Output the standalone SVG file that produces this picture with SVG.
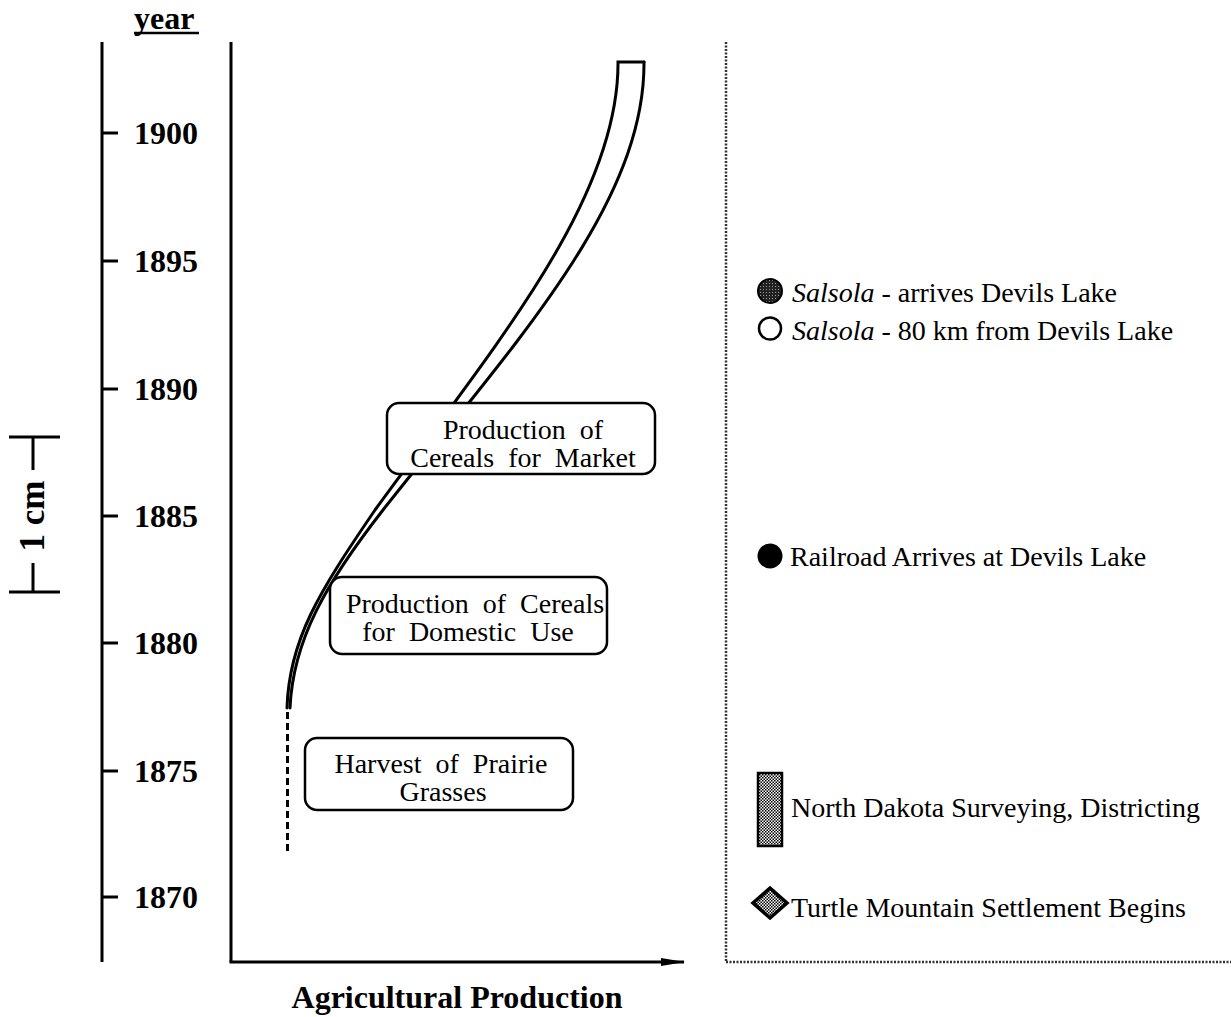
<svg xmlns="http://www.w3.org/2000/svg" width="1231" height="1017" viewBox="0 0 1231 1017">
<defs>
<pattern id="checker" width="3" height="3" patternUnits="userSpaceOnUse">
<rect width="3" height="3" fill="#fff"/>
<rect x="0" y="0" width="1.5" height="1.5" fill="#000"/>
<rect x="1.5" y="1.5" width="1.5" height="1.5" fill="#000"/>
</pattern>
<pattern id="dark" width="3" height="3" patternUnits="userSpaceOnUse">
<rect width="3" height="3" fill="#222"/>
<rect x="1" y="1" width="1" height="1" fill="#999"/>
</pattern>
<marker id="arrow" viewBox="0 0 24 10" refX="23" refY="5" markerWidth="24" markerHeight="10" markerUnits="userSpaceOnUse" orient="auto">
<path d="M0,1 L24,5 L0,9 Z" fill="#000"/>
</marker>
</defs>
<style>
.ax{stroke:#000;stroke-width:3;fill:none}
.yr{font-family:"Liberation Serif","Times New Roman",serif;font-weight:bold;font-size:32px;fill:#000}
.bx{fill:#fff;stroke:#000;stroke-width:2.5}
.bt{font-family:"Liberation Serif","Times New Roman",serif;font-size:28px;fill:#000;text-anchor:middle;word-spacing:7px}
.lg{font-family:"Liberation Serif","Times New Roman",serif;font-size:28px;fill:#000}
.dot{stroke:#333;stroke-width:2.5;stroke-dasharray:2 1.5;fill:none}
.cv{stroke:#000;stroke-width:3;fill:none;stroke-linecap:round}
</style>
<rect width="1231" height="1017" fill="#fff"/>

<g id="scale-bar">
<line class="ax" x1="9" y1="437" x2="60" y2="437"/>
<line class="ax" x1="9" y1="592" x2="60" y2="592"/>
<line class="ax" x1="33" y1="437" x2="33" y2="470"/>
<line class="ax" x1="33" y1="563" x2="33" y2="592"/>
<text class="yr" style="font-size:35px" text-anchor="middle" transform="translate(44,516) rotate(-90)">1 cm</text>
</g>

<g id="year-axis">
<text class="yr" x="134" y="29">year</text>
<line x1="134" y1="33" x2="199" y2="33" stroke="#000" stroke-width="2.5"/>
<line class="ax" x1="102" y1="42" x2="102" y2="962"/>
<g class="ax">
<line x1="102" y1="133" x2="118" y2="133"/>
<line x1="102" y1="261" x2="118" y2="261"/>
<line x1="102" y1="389" x2="118" y2="389"/>
<line x1="102" y1="516" x2="118" y2="516"/>
<line x1="102" y1="643" x2="118" y2="643"/>
<line x1="102" y1="771" x2="118" y2="771"/>
<line x1="102" y1="897" x2="118" y2="897"/>
</g>
<text class="yr" x="134" y="144">1900</text>
<text class="yr" x="134" y="272">1895</text>
<text class="yr" x="134" y="400">1890</text>
<text class="yr" x="134" y="527">1885</text>
<text class="yr" x="134" y="654">1880</text>
<text class="yr" x="134" y="782">1875</text>
<text class="yr" x="134" y="908">1870</text>
</g>

<g id="production-axis">
<line class="ax" x1="231" y1="42" x2="231" y2="962"/>
<line class="ax" x1="229.5" y1="962" x2="684" y2="962" marker-end="url(#arrow)"/>
<text class="yr" x="457" y="1008" text-anchor="middle">Agricultural Production</text>
</g>

<g id="connectors">
<path class="cv" d="M287,708 C289,640 319,592 375,510 C493,348 619,200 618,62 L644,62"/>
<path class="cv" d="M290,708 C293,640 326,583 383,510 C513,345 645,205 644,62"/>
<line x1="287.5" y1="712" x2="287.5" y2="852" stroke="#000" stroke-width="3" stroke-dasharray="7 4"/>
</g>

<g id="box-market">
<rect class="bx" x="387" y="403" width="268" height="71" rx="12"/>
<text class="bt" x="523" y="439">Production of</text>
<text class="bt" x="523" y="467">Cereals for Market</text>
</g>

<g id="box-domestic">
<rect class="bx" x="330" y="577" width="277" height="77" rx="12"/>
<text class="bt" x="475" y="613">Production of Cereals</text>
<text class="bt" x="468" y="641">for Domestic Use</text>
</g>

<g id="box-harvest">
<rect class="bx" x="305" y="738" width="268" height="72" rx="12"/>
<text class="bt" x="441" y="773">Harvest of Prairie</text>
<text class="bt" x="443" y="801">Grasses</text>
</g>

<g id="right-panel">
<line class="dot" x1="726" y1="42" x2="726" y2="962"/>
<line class="dot" x1="726" y1="962" x2="1231" y2="962"/>
</g>

<g id="legend-salsola-arrives">
<circle cx="770" cy="291" r="12" fill="url(#dark)" stroke="#000" stroke-width="2"/>
<text class="lg" x="792" y="302"><tspan font-style="italic">Salsola</tspan> - arrives Devils Lake</text>
</g>
<g id="legend-salsola-80km">
<circle cx="770" cy="328.5" r="11" fill="#fff" stroke="#000" stroke-width="2.5"/>
<text class="lg" x="792" y="340"><tspan font-style="italic">Salsola</tspan> - 80 km from Devils Lake</text>
</g>
<g id="legend-railroad">
<circle cx="770" cy="556" r="12.5" fill="#000"/>
<text class="lg" x="790" y="566">Railroad Arrives at Devils Lake</text>
</g>
<g id="legend-surveying">
<rect x="758" y="773" width="24" height="73" fill="url(#checker)" stroke="#000" stroke-width="2.5"/>
<text class="lg" x="791" y="817">North Dakota Surveying, Districting</text>
</g>
<g id="legend-turtle">
<polygon points="770,888 787,903 770,918 753,903" fill="url(#checker)" stroke="#000" stroke-width="3.5" stroke-linejoin="miter"/>
<text class="lg" x="791" y="917">Turtle Mountain Settlement Begins</text>
</g>
</svg>
